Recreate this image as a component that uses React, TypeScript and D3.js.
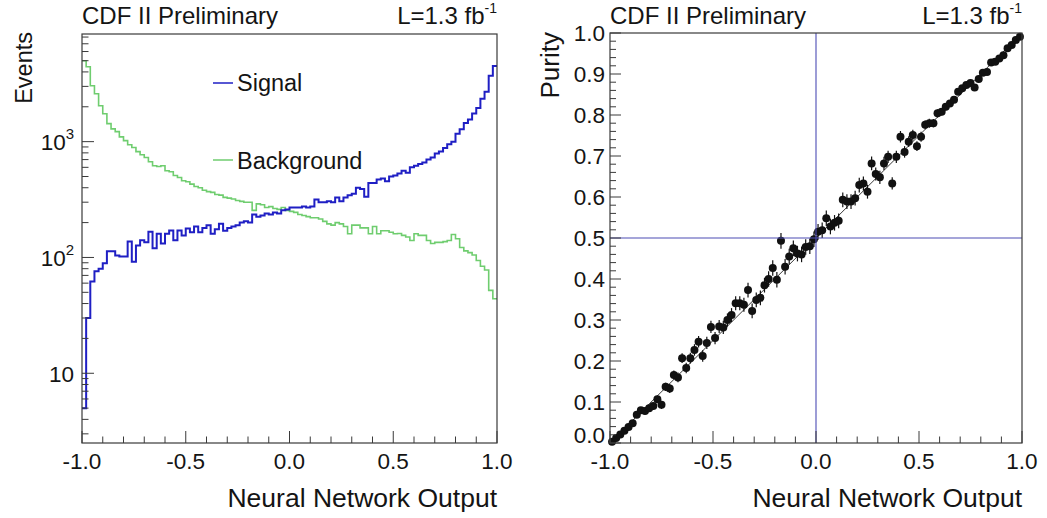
import React from 'react';
import * as d3 from 'd3';

// ---------- data ----------
const nBins = 100;
const xDomain: [number, number] = [-1, 1];

const signalCounts = [
  5, 30, 62, 76, 80, 89, 113, 113, 104, 102,
  102, 137, 92, 127, 141, 135, 167, 120, 160, 132,
  160, 171, 141, 171, 155, 178, 165, 185, 165, 180,
  190, 160, 175, 195, 170, 180, 185, 190, 200, 205,
  200, 235, 225, 230, 240, 235, 245, 240, 255, 260,
  270, 270, 270, 275, 270, 275, 316, 300, 300, 305,
  300, 330, 305, 330, 345, 355, 400, 390, 335, 440,
  440, 470, 480, 455, 500, 510, 530, 560, 540, 600,
  620, 640, 660, 700, 730, 790, 820, 880, 950, 1000,
  1170, 1280, 1450, 1550, 1750, 1950, 2350, 2700, 3700, 4500,
];

const backgroundCounts = [
  5000, 4430, 3040, 2590, 2040, 1740, 1430, 1290, 1220, 1100,
  1020, 940, 890, 820, 770, 730, 670, 620, 610, 620,
  560, 550, 510, 490, 460, 450, 430, 410, 400, 380,
  370, 365, 350, 345, 330, 325, 320, 310, 305, 300,
  300, 255, 290, 285, 270, 275, 265, 260, 270, 255,
  250, 245, 235, 230, 225, 220, 220, 215, 205, 195,
  190, 200, 195, 185, 160, 190, 190, 180, 180, 160,
  185, 160, 170, 170, 165, 160, 161, 155, 150, 140,
  160, 155, 155, 140, 132, 135, 135, 137, 140, 158,
  145, 122, 114, 110, 105, 94, 84, 78, 52, 44,
];

const purity = [
  0.003, 0.012, 0.021, 0.030, 0.039, 0.048, 0.069, 0.080, 0.078, 0.085,
  0.090, 0.107, 0.093, 0.137, 0.133, 0.166, 0.160, 0.207, 0.183, 0.207,
  0.227, 0.247, 0.212, 0.244, 0.283, 0.256, 0.284, 0.282, 0.300, 0.312,
  0.341, 0.341, 0.337, 0.373, 0.322, 0.349, 0.354, 0.385, 0.400, 0.427,
  0.398, 0.493, 0.430, 0.455, 0.475, 0.462, 0.460, 0.478, 0.480, 0.497,
  0.515, 0.519, 0.548, 0.528, 0.537, 0.542, 0.593, 0.589, 0.589, 0.597,
  0.629, 0.633, 0.613, 0.682, 0.656, 0.648, 0.682, 0.698, 0.633, 0.698,
  0.747, 0.710, 0.735, 0.751, 0.724, 0.747, 0.776, 0.780, 0.780, 0.804,
  0.808, 0.820, 0.828, 0.837, 0.857, 0.865, 0.873, 0.878, 0.867, 0.888,
  0.903, 0.905, 0.928, 0.930, 0.938, 0.946, 0.963, 0.971, 0.983, 0.991,
];

const purityErr = [
  0.004, 0.004, 0.005, 0.005, 0.006, 0.006, 0.007, 0.007, 0.008, 0.008,
  0.009, 0.009, 0.010, 0.010, 0.011, 0.011, 0.012, 0.012, 0.013, 0.013,
  0.014, 0.014, 0.014, 0.015, 0.015, 0.015, 0.016, 0.016, 0.016, 0.017,
  0.017, 0.017, 0.017, 0.018, 0.018, 0.018, 0.018, 0.018, 0.019, 0.019,
  0.019, 0.019, 0.019, 0.019, 0.019, 0.019, 0.019, 0.019, 0.019, 0.019,
  0.019, 0.019, 0.019, 0.019, 0.019, 0.018, 0.018, 0.018, 0.018, 0.018,
  0.018, 0.017, 0.017, 0.017, 0.016, 0.016, 0.016, 0.015, 0.015, 0.015,
  0.014, 0.014, 0.013, 0.013, 0.012, 0.012, 0.011, 0.011, 0.010, 0.010,
  0.009, 0.009, 0.008, 0.008, 0.007, 0.007, 0.006, 0.006, 0.006, 0.005,
  0.005, 0.005, 0.004, 0.004, 0.004, 0.003, 0.003, 0.003, 0.003, 0.002,
];

const fitX = [-1, 1];
const fitY = [0, 1];
const cutX = 0.0;
const cutY = 0.5;

const xTickValues = [-1, -0.5, 0, 0.5, 1];
const xTickLabels = ['-1.0', '-0.5', '0.0', '0.5', '1.0'];
const logTickValues = [10, 100, 1000];
const logTickBase = ['10', '10', '10'];
const logTickExp = ['', '2', '3'];
const purityTickValues = [0, 0.1, 0.2, 0.3, 0.4, 0.5, 0.6, 0.7, 0.8, 0.9, 1.0];
const purityTickLabels = ['0.0', '0.1', '0.2', '0.3', '0.4', '0.5', '0.6', '0.7', '0.8', '0.9', '1.0'];

const legendLabels = ['Signal', 'Background'];
const titleText = 'CDF II Preliminary';
const lumiText = 'L=1.3 fb';
const lumiExp = '-1';
const xTitle = 'Neural Network Output';
const yTitleLeft = 'Events';
const yTitleRight = 'Purity';

// ---------- style ----------
const FONT = '"Liberation Sans", Arial, Helvetica, sans-serif';
const TXT = '#141414';
const AXIS = '#3a3a3a';
const SIG = '#1f1fc4';
const BKG = '#6fcd6f';
const CROSS = '#4c4cb4';
const TICKFS = 22.5;

const binEdges = d3.range(nBins + 1).map((i) => xDomain[0] + (i * (xDomain[1] - xDomain[0])) / nBins);
const binCenters = d3.range(nBins).map((i) => (binEdges[i] + binEdges[i + 1]) / 2);

export default function App() {
  // left panel
  const L = { x0: 82, x1: 497, y0: 34, y1: 443 };
  const xL = d3.scaleLinear().domain(xDomain).range([L.x0, L.x1]);
  const yL = d3.scaleLog().domain([2.5, 8500]).range([L.y1, L.y0]);

  // right panel
  const R = { x0: 610, x1: 1022, y0: 33, y1: 443 };
  const xR = d3.scaleLinear().domain(xDomain).range([R.x0, R.x1]);
  const yR = d3.scaleLinear().domain([0, 1]).range([R.y1, R.y0]);

  const stepLine = (vals: number[]) => {
    const pts: [number, number][] = binEdges.map((e, i) => [e, vals[Math.min(i, vals.length - 1)]]);
    return d3
      .line<[number, number]>()
      .x((d) => xL(d[0]))
      .y((d) => yL(d[1]))
      .curve(d3.curveStepAfter)(pts) as string;
  };

  const xMinorL = d3.range(-10, 11).map((k) => k / 10);

  // log minor ticks
  const logMinor: number[] = [];
  [1, 10, 100, 1000].forEach((dec) => {
    for (let k = 2; k <= 9; k++) {
      const v = k * dec;
      if (v >= 2.5 && v <= 8500) logMinor.push(v);
    }
  });

  const purityMinor = d3.range(0, 51).map((k) => k / 50);

  const xTicks = (xs: d3.ScaleLinear<number, number>, yBase: number) => (
    <g>
      {xMinorL.map((v, i) => {
        const major = xTickValues.some((t) => Math.abs(t - v) < 1e-9);
        return (
          <line key={i} x1={xs(v)} x2={xs(v)} y1={yBase} y2={yBase - (major ? 12 : 6.5)} stroke={AXIS} strokeWidth={1} />
        );
      })}
      {xTickValues.map((v, i) => (
        <text key={'l' + i} x={xs(v)} y={yBase + 26} textAnchor="middle" fontSize={TICKFS} fill={TXT} fontFamily={FONT}>
          {xTickLabels[i]}
        </text>
      ))}
    </g>
  );

  return (
    <svg
      width={1047}
      height={518}
      style={{ position: 'absolute', left: 0, top: 0, background: '#fff' }}
      fontFamily={FONT}
    >
      <rect x={0} y={0} width={1047} height={518} fill="#fff" />

      {/* ---------------- LEFT PANEL ---------------- */}
      <g>
        <path d={stepLine(backgroundCounts)} fill="none" stroke={BKG} strokeWidth={1.6} />
        <path d={stepLine(signalCounts)} fill="none" stroke={SIG} strokeWidth={2} />

        <rect x={L.x0} y={L.y0} width={L.x1 - L.x0} height={L.y1 - L.y0} fill="none" stroke={AXIS} strokeWidth={1.2} />

        {xTicks(xL, L.y1)}

        {/* y log ticks */}
        {logMinor.map((v, i) => (
          <line key={'m' + i} x1={L.x0} x2={L.x0 + 6.5} y1={yL(v)} y2={yL(v)} stroke={AXIS} strokeWidth={1} />
        ))}
        {logTickValues.map((v, i) => (
          <g key={'M' + i}>
            <line x1={L.x0} x2={L.x0 + 12} y1={yL(v)} y2={yL(v)} stroke={AXIS} strokeWidth={1} />
            <text x={L.x0 - 8} y={yL(v) + 8.5} textAnchor="end" fontSize={TICKFS} fill={TXT}>
              {logTickBase[i]}
              {logTickExp[i] && (
                <tspan dy={-11} fontSize={15}>
                  {logTickExp[i]}
                </tspan>
              )}
            </text>
          </g>
        ))}

        {/* legend */}
        <line x1={213} x2={233} y1={83} y2={83} stroke={SIG} strokeWidth={1.5} />
        <text x={237} y={91} fontSize={23.5} fill={TXT}>{legendLabels[0]}</text>
        <line x1={213} x2={233} y1={160} y2={160} stroke={BKG} strokeWidth={1.5} />
        <text x={237} y={169} fontSize={23.5} fill={TXT}>{legendLabels[1]}</text>

        {/* titles */}
        <text x={L.x0} y={24} fontSize={24} fill={TXT}>{titleText}</text>
        <text x={L.x1} y={24} fontSize={24} fill={TXT} textAnchor="end">
          {lumiText}
          <tspan dy={-11} fontSize={14}>{lumiExp}</tspan>
        </text>
        <text x={L.x1} y={507} fontSize={26.5} fill={TXT} textAnchor="end">{xTitle}</text>
        <text transform={`translate(32, ${L.y0 - 2}) rotate(-90)`} fontSize={23.5} fill={TXT} textAnchor="end">
          {yTitleLeft}
        </text>
      </g>

      {/* ---------------- RIGHT PANEL ---------------- */}
      <g>
        {/* fit line */}
        <line x1={xR(fitX[0])} y1={yR(fitY[0])} x2={xR(fitX[1])} y2={yR(fitY[1])} stroke="#222" strokeWidth={0.9} />

        {/* points with errors */}
        {purity.map((p, i) => (
          <g key={'p' + i}>
            <line
              x1={xR(binCenters[i])}
              x2={xR(binCenters[i])}
              y1={yR(p - purityErr[i])}
              y2={yR(p + purityErr[i])}
              stroke="#111"
              strokeWidth={1.2}
            />
            <circle cx={xR(binCenters[i])} cy={yR(p)} r={4} fill="#111" />
          </g>
        ))}

        {/* cut lines */}
        <line x1={R.x0} x2={R.x1} y1={yR(cutY)} y2={yR(cutY)} stroke={CROSS} strokeWidth={1.1} />
        <line x1={xR(cutX)} x2={xR(cutX)} y1={R.y0} y2={R.y1} stroke={CROSS} strokeWidth={1.1} />

        <rect x={R.x0} y={R.y0} width={R.x1 - R.x0} height={R.y1 - R.y0} fill="none" stroke={AXIS} strokeWidth={1.2} />

        {xTicks(xR, R.y1)}

        {purityMinor.map((v, i) => {
          const major = i % 5 === 0;
          return (
            <line key={'pm' + i} x1={R.x0} x2={R.x0 + (major ? 11 : 6)} y1={yR(v)} y2={yR(v)} stroke={AXIS} strokeWidth={1} />
          );
        })}
        {purityTickValues.map((v, i) => (
          <text key={'pl' + i} x={R.x0 - 5} y={yR(v) + (i === 0 ? 0 : 8)} textAnchor="end" fontSize={TICKFS} fill={TXT}>
            {purityTickLabels[i]}
          </text>
        ))}

        <text x={R.x0} y={24} fontSize={24} fill={TXT}>{titleText}</text>
        <text x={R.x1} y={24} fontSize={24} fill={TXT} textAnchor="end">
          {lumiText}
          <tspan dy={-11} fontSize={14}>{lumiExp}</tspan>
        </text>
        <text x={R.x1} y={507} fontSize={26.5} fill={TXT} textAnchor="end">{xTitle}</text>
        <text transform={`translate(559, ${R.y0 - 1}) rotate(-90)`} fontSize={26} fill={TXT} textAnchor="end">
          {yTitleRight}
        </text>
      </g>
    </svg>
  );
}
